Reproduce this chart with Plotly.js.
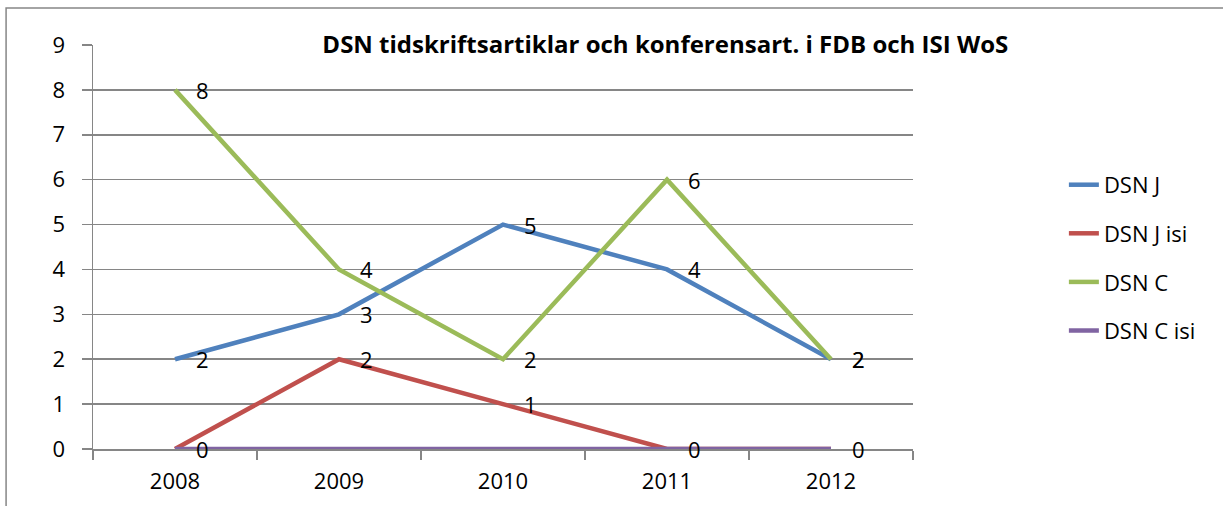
<!DOCTYPE html>
<html>
<head>
<meta charset="utf-8">
<script src="https://cdn.plot.ly/plotly-3.0.1.min.js"></script>
<style>
html,body{margin:0;padding:0;background:#fff;}
#chart{width:1223px;height:506px;}
</style>
</head>
<body>
<div id="chart"></div>
<script>
var years = ["2008", "2009", "2010", "2011", "2012"];
var dsnJ = [2, 3, 5, 4, 2];
var dsnJisi = [0, 2, 1, 0, 0];
var dsnC = [8, 4, 2, 6, 2];
var dsnCisi = [0, 0, 0, 0, 0];
var seriesNames = ["DSN J", "DSN J isi", "DSN C", "DSN C isi"];
var seriesValues = [dsnJ, dsnJisi, dsnC, dsnCisi];
var seriesLabelled = [true, true, true, false];
var seriesColors = ["#4F81BD", "#C0504D", "#9BBB59", "#8064A2"];
var yTicks = [0, 1, 2, 3, 4, 5, 6, 7, 8, 9];

var FONT = "Open Sans, Liberation Sans, sans-serif";

var traces = seriesNames.map(function(name, i){
  return {
    type: "scatter",
    mode: "lines",
    name: name,
    legendgroup: "g" + i,
    x: years,
    y: seriesValues[i],
    line: {color: seriesColors[i], width: 4.5},
    hoverinfo: "x+y+name"
  };
});

var annotations = [];
seriesValues.forEach(function(vals, i){
  if (!seriesLabelled[i]) return;
  vals.forEach(function(v, j){
    annotations.push({
      x: j, y: v, xref: "x", yref: "y",
      text: String(v), showarrow: false,
      xanchor: "left", yanchor: "middle",
      xshift: 19, yshift: 0,
      font: {family: FONT, size: 22, color: "#000"}
    });
  });
});

var layout = {
  width: 1223, height: 506,
  margin: {l: 93, r: 310, t: 45, b: 57},
  paper_bgcolor: "#fff", plot_bgcolor: "#fff",
  font: {family: FONT, size: 22, color: "#000"},
  title: {
    text: "<b>DSN tidskriftsartiklar och konferensart. i FDB och ISI WoS</b>",
    font: {family: FONT, size: 24, color: "#000"},
    x: 0.544, xanchor: "center", y: 0.911, yanchor: "middle",
    xref: "container", yref: "container"
  },
  xaxis: {
    type: "category",
    range: [-0.5, 4.5],
    showgrid: false,
    showline: true, linecolor: "#868686", linewidth: 1.5,
    ticks: "outside", tickson: "boundaries", ticklen: 9, tickcolor: "#868686", tickwidth: 1.5,
    ticklabelstandoff: 12,
    tickfont: {family: FONT, size: 22, color: "#000"},
    fixedrange: true, zeroline: false
  },
  yaxis: {
    range: [0, 9],
    tickvals: yTicks,
    ticktext: yTicks.map(String),
    showgrid: true, gridcolor: "#868686", gridwidth: 1.5,
    showline: true, linecolor: "#868686", linewidth: 1.5,
    ticks: "outside", ticklen: 10, tickcolor: "#868686", tickwidth: 1.5,
    ticklabelstandoff: 12,
    tickfont: {family: FONT, size: 22, color: "#000"},
    zeroline: false, fixedrange: true
  },
  showlegend: true,
  legend: {
    x: 1.184, xanchor: "left", y: 0.473, yanchor: "middle",
    font: {family: FONT, size: 22, color: "#000"},
    tracegroupgap: 17, traceorder: "grouped",
    bgcolor: "rgba(0,0,0,0)"
  },
  annotations: annotations,
  shapes: [{
    type: "rect", xref: "paper", yref: "paper",
    x0: -0.106, x1: 1.4, y0: -0.2, y1: 1.0916,
    line: {color: "#868686", width: 1.5}, fillcolor: "rgba(0,0,0,0)", layer: "below"
  }]
};

Plotly.newPlot("chart", traces, layout, {displayModeBar: false, staticPlot: true});
</script>
</body>
</html>
